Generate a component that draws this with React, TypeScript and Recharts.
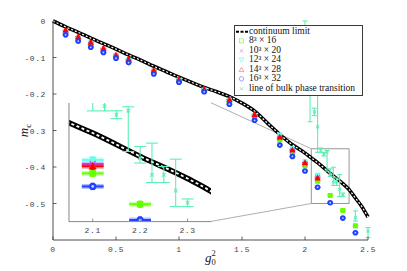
import React from 'react';
import { ComposedChart, Scatter, Line, XAxis, YAxis, ErrorBar, ReferenceArea, ReferenceLine, Legend } from 'recharts';

// ---------------- data ----------------
const G_LAT = [0.1, 0.2, 0.3, 0.4, 0.5, 0.6, 0.8, 1.0, 1.2, 1.4, 1.6, 1.8, 1.9, 2.0, 2.1];
const G_LAT_LONG = [0.1, 0.2, 0.3, 0.4, 0.5, 0.6, 0.8, 1.0, 1.2, 1.4, 1.6, 1.8, 1.9, 2.0, 2.1, 2.2, 2.3, 2.4];

const M_8x16 = [-0.035, -0.052, -0.068, -0.084, -0.099, -0.111, -0.141, -0.165, -0.191, -0.223, -0.265, -0.326, -0.362, -0.397, -0.439, -0.478, -0.519, -0.561];
const M_10x20 = [-0.030, -0.048, -0.063, -0.080, -0.097, -0.108, -0.139, -0.163, -0.190, -0.219, -0.261, -0.320, -0.355, -0.392, -0.427];
const M_12x24 = [-0.028, -0.046, -0.061, -0.078, -0.095, -0.107, -0.137, -0.162, -0.189, -0.217, -0.259, -0.312, -0.349, -0.385, -0.422];
const M_14x28 = [-0.025, -0.043, -0.058, -0.075, -0.093, -0.104, -0.135, -0.160, -0.187, -0.215, -0.256, -0.318, -0.353, -0.388, -0.430];
const M_16x32 = [-0.038, -0.055, -0.072, -0.086, -0.102, -0.114, -0.145, -0.168, -0.194, -0.228, -0.272, -0.340, -0.371, -0.411, -0.4555, -0.498, -0.540, -0.580];
const ERR_M = 0.004;
const ERR_G = 0.023;

const G_CONT = [0, 0.1, 0.2, 0.3, 0.4, 0.5, 0.6, 0.7, 0.8, 0.9, 1.0, 1.1, 1.2, 1.3, 1.4, 1.5, 1.6, 1.7, 1.8, 1.9, 2.0, 2.05, 2.1, 2.2, 2.3, 2.35, 2.4, 2.45, 2.5];
const M_CONT = [0, -0.016, -0.031, -0.047, -0.062, -0.077, -0.093, -0.108, -0.124, -0.139, -0.154, -0.168, -0.182, -0.194, -0.207, -0.225, -0.247, -0.279, -0.311, -0.339, -0.362, -0.375, -0.388, -0.4175, -0.4455, -0.462, -0.485, -0.508, -0.537];

const G_BULK = [2.0, 2.04, 2.075, 2.1, 2.125, 2.15, 2.175, 2.2, 2.225, 2.25, 2.275, 2.3, 2.4, 2.5];
const M_BULK = [-0.1, -0.2, -0.249, -0.29, -0.354, -0.3648, -0.3598, -0.4197, -0.4409, -0.4409, -0.4608, -0.476, -0.539, -0.5757];
const BULK_LO = [0.02, 0.076, 0.01, 0.07, 0.006, 0.005, 0.0515, 0.0063, 0.0097, 0.0097, 0.0202, 0.005, 0.009, 0.018];
const BULK_HI = [0.1, 0.03, 0.01, 0.12, 0.006, 0.005, 0.005, 0.0147, 0.0402, 0.0106, 0.0398, 0.0047, 0.0185, 0.0097];

const X_TICKS = [0, 0.5, 1, 1.5, 2, 2.5];
const Y_TICKS = [0, -0.1, -0.2, -0.3, -0.4, -0.5];
const INSET_X_TICKS = [2.1, 2.2, 2.3];
const X_DOMAIN = [0, 2.5];
const Y_DOMAIN = [-0.6, 0];
const ZOOM_X = [2.05, 2.35];
const ZOOM_Y = [-0.5, -0.35];
// inset box in main-chart data coordinates
const INSET_X = [0.125, 1.254];
const INSET_Y = [-0.549, -0.224];

const LEGEND_LABELS = ['continuum limit', '8³ × 16', '10³ × 20', '12³ × 24', '14³ × 28', '16³ × 32', 'line of bulk phase transition'];

// ---------------- layout ----------------
const W = 407;
const H = 271;
const PL = 53;
const PT = 21;
const PR = 368;
const PB = 240;
const px = (g: number) => PL + ((g - X_DOMAIN[0]) / (X_DOMAIN[1] - X_DOMAIN[0])) * (PR - PL);
const py = (m: number) => PT + ((Y_DOMAIN[1] - m) / (Y_DOMAIN[1] - Y_DOMAIN[0])) * (PB - PT);

const C8 = '#66ff00';
const C10 = '#c040ff';
const C12 = '#66ffee';
const C14 = '#ff0000';
const C16 = '#2040ff';
const CB = '#5cf0b4';
const FRAME = '#3a3a3a';
const TICKC = '#444';

const lat = (gs: number[], ms: number[]) => ms.map((m, i) => ({ g: gs[i], m, em: ERR_M, eg: ERR_G }));
const D8 = lat(G_LAT_LONG, M_8x16);
const D10 = lat(G_LAT, M_10x20);
const D12 = lat(G_LAT, M_12x24);
const D14 = lat(G_LAT, M_14x28);
const D16 = lat(G_LAT_LONG, M_16x32);
const CONT = G_CONT.map((g, i) => ({ g, m: M_CONT[i] }));
const BULK = G_BULK.map((g, i) => ({ g, m: M_BULK[i], eb: [BULK_LO[i], BULK_HI[i]] }));

// ---------------- marker shapes ----------------
const square = (c: string, s: number) => (p: any) => (
  <rect x={p.cx - s / 2} y={p.cy - s / 2} width={s} height={s} fill={c} />
);
const triUp = (c: string, s: number) => (p: any) => (
  <polygon points={`${p.cx},${p.cy - s * 0.55} ${p.cx - s / 2},${p.cy + s * 0.4} ${p.cx + s / 2},${p.cy + s * 0.4}`} fill={c} />
);
const triDown = (c: string, s: number) => (p: any) => (
  <polygon points={`${p.cx},${p.cy + s * 0.55} ${p.cx - s / 2},${p.cy - s * 0.4} ${p.cx + s / 2},${p.cy - s * 0.4}`} fill={c} />
);
const cross = (c: string, s: number, w: number) => (p: any) => (
  <g stroke={c} strokeWidth={w}>
    <line x1={p.cx - s / 2} y1={p.cy - s / 2} x2={p.cx + s / 2} y2={p.cy + s / 2} />
    <line x1={p.cx - s / 2} y1={p.cy + s / 2} x2={p.cx + s / 2} y2={p.cy - s / 2} />
  </g>
);
const circ = (c: string, r: number, inner: number) => (p: any) => (
  <g>
    <circle cx={p.cx} cy={p.cy} r={r} fill={c} />
    <circle cx={p.cx} cy={p.cy} r={inner} fill="#c8d0ff" />
  </g>
);

// ---------------- ticks ----------------
const tickText = { fontFamily: 'Liberation Mono, DejaVu Sans Mono, monospace', fontSize: 8, letterSpacing: 0.6, fill: TICKC } as any;
const BottomTick = (len: number, labels: boolean, dy: number, col: string) => (p: any) => (
  <g>
    <line x1={p.x} x2={p.x} y1={p.y} y2={p.y - len} stroke={col} strokeWidth={0.8} />
    {labels ? (
      <text x={p.x} y={p.y + dy} textAnchor="middle" {...tickText}>{String(p.payload.value)}</text>
    ) : null}
  </g>
);
const TopTick = (len: number, col: string) => (p: any) => (
  <line x1={p.x} x2={p.x} y1={p.y} y2={p.y + len} stroke={col} strokeWidth={0.8} />
);
const LeftTick = (p: any) => (
  <g>
    <line x1={p.x} x2={p.x + 3.5} y1={p.y} y2={p.y} stroke={FRAME} strokeWidth={0.8} />
    <text x={p.x - 7} y={p.y + 3} textAnchor="end" {...tickText}>{String(p.payload.value)}</text>
  </g>
);
const RightTick = (p: any) => (
  <line x1={p.x} x2={p.x - 3.5} y1={p.y} y2={p.y} stroke={FRAME} strokeWidth={0.8} />
);

// ---------------- axis labels ----------------
const MLabel = (p: any) => {
  const vb = p.viewBox || { y: PT, height: PB - PT };
  const cx = 28;
  const cy = vb.y + vb.height / 2;
  return (
    <text x={cx} y={cy} transform={`rotate(-90 ${cx} ${cy})`} textAnchor="middle" fontFamily="Liberation Serif, DejaVu Serif, serif" fontSize={13} fill="#222">
      <tspan fontStyle="italic">m</tspan>
      <tspan fontSize={9} dy={2.5}>c</tspan>
    </text>
  );
};
const GLabel = (p: any) => {
  const vb = p.viewBox || { x: PL, width: PR - PL };
  const cx = vb.x + vb.width / 2;
  return (
    <text x={cx - 5.5} y={262} fontFamily="Liberation Serif, DejaVu Serif, serif" fontSize={13} fill="#222">
      <tspan fontStyle="italic">g</tspan>
      <tspan fontSize={8.5} dy={3}>0</tspan>
      <tspan fontSize={8.5} dx={-4.3} dy={-9.5}>2</tspan>
    </text>
  );
};

// ---------------- legend ----------------
const legendIcon = (i: number) => {
  const c = 6.5;
  const m = 4.8;
  switch (i) {
    case 0:
      return <line x1={1} x2={13} y1={m} y2={m} stroke="#000" strokeWidth={2} strokeDasharray="3 1.5" />;
    case 1:
      return <rect x={c - 2} y={m - 2} width={4} height={4} fill="none" stroke="#9ef070" strokeWidth={0.8} />;
    case 2:
      return cross('#d890ff', 3.6, 0.8)({ cx: c, cy: m });
    case 3:
      return <polygon points={`${c},${m + 2.4} ${c - 2.4},${m - 1.8} ${c + 2.4},${m - 1.8}`} fill="none" stroke="#80f5ec" strokeWidth={0.8} />;
    case 4:
      return <polygon points={`${c},${m - 2.4} ${c - 2.4},${m + 1.8} ${c + 2.4},${m + 1.8}`} fill="none" stroke="#ff8080" strokeWidth={0.8} />;
    case 5:
      return <circle cx={c} cy={m} r={2.2} fill="none" stroke="#7a90ff" strokeWidth={0.8} />;
    default:
      return cross('#60eeb4', 3.2, 0.8)({ cx: c, cy: m });
  }
};
const LegendBox = () => (
  <div
    style={{
      border: `1px solid ${FRAME}`,
      background: '#fff',
      width: 127,
      boxSizing: 'content-box',
      padding: '0.5px 0 1px 0',
      fontFamily: 'Liberation Serif, DejaVu Serif, serif',
      fontSize: 9.5,
      color: '#111',
    }}
  >
    {LEGEND_LABELS.map((t, i) => (
      <div key={t} style={{ display: 'flex', alignItems: 'center', height: 9.6, lineHeight: '9.6px', whiteSpace: 'nowrap' }}>
        <svg width={14} height={9.6} style={{ display: 'block', flex: 'none' }}>{legendIcon(i)}</svg>
        <span>{t}</span>
      </div>
    ))}
  </div>
);

// ---------------- series renderers ----------------
const latticeSeries = (inset: boolean) => {
  const k = inset ? 1.3 : 1;
  const xe = (c: string) =>
    inset
      ? [
          <ErrorBar key="xh" dataKey="eg" direction="x" width={0} stroke={c} strokeWidth={5} strokeOpacity={0.35} />,
          <ErrorBar key="xc" dataKey="eg" direction="x" width={0} stroke={c} strokeWidth={2} />,
        ]
      : [<ErrorBar key="x" dataKey="eg" direction="x" width={0} stroke={c} strokeWidth={1} />];
  const ye = (c: string) => <ErrorBar key="y" dataKey="em" direction="y" width={inset ? 2 : 1.5} stroke={c} strokeWidth={1} />;
  return [
    <Scatter key="s8" name="8x16" data={D8} dataKey="m" isAnimationActive={false} shape={square(C8, 5 * k)}>
      {xe(C8)}
      {ye(C8)}
    </Scatter>,
    <Scatter key="s10" name="10x20" data={D10} dataKey="m" isAnimationActive={false} shape={cross(C10, 4.5 * k, 1.2)}>
      {xe(C10)}
      {ye(C10)}
    </Scatter>,
    <Scatter key="s12" name="12x24" data={D12} dataKey="m" isAnimationActive={false} shape={triDown(C12, 6 * k)}>
      {xe(C12)}
      {ye(C12)}
    </Scatter>,
    <Scatter key="s14" name="14x28" data={D14} dataKey="m" isAnimationActive={false} shape={triUp(C14, 6.2 * k)}>
      {xe(C14)}
      {ye(C14)}
    </Scatter>,
    <Scatter key="s16" name="16x32" data={D16} dataKey="m" isAnimationActive={false} shape={circ(C16, 2.8 * k, inset ? 1.4 : 0.9)}>
      {xe(C16)}
      {ye(C16)}
    </Scatter>,
  ];
};

const contSeries = (w: number, dw: number, dash: string) => [
  <Line key="c1" data={CONT} dataKey="m" type="monotone" stroke="#000" strokeWidth={w} dot={false} activeDot={false} isAnimationActive={false} legendType="none" />,
  <Line key="c2" data={CONT} dataKey="m" type="monotone" stroke="#fff" strokeWidth={dw} strokeDasharray={dash} dot={false} activeDot={false} isAnimationActive={false} legendType="none" />,
];

const bulkSeries = (inset: boolean) => (
  <Scatter key="bulk" name="bulk" data={BULK} dataKey="m" isAnimationActive={false} shape={cross(CB, inset ? 3.5 : 2.8, 1.1)}>
    <ErrorBar dataKey="eb" direction="y" width={inset ? 6 : 2.5} stroke={CB} strokeWidth={1.1} />
  </Scatter>
);

// inset geometry in pixels (derived from main scale)
const IL = px(INSET_X[0]);
const IR = px(INSET_X[1]);
const IT = py(INSET_Y[1]);
const IB = py(INSET_Y[0]);
const IPAD = 3;
const IW = IR - IL + 2 * IPAD;
const IH = IB - IT + IPAD + 16;
const IFRAME = '#777';

const insetAxes = (show: boolean) => [
  <XAxis
    key="xb"
    dataKey="g"
    type="number"
    domain={ZOOM_X}
    allowDataOverflow
    ticks={INSET_X_TICKS}
    interval={0}
    height={16}
    tickLine={false}
    tickSize={0}
    tickMargin={0}
    axisLine={show ? { stroke: IFRAME, strokeWidth: 0.9 } : false}
    tick={show ? BottomTick(3, true, 11, IFRAME) : false}
  />,
  <XAxis
    key="xt"
    xAxisId="top"
    orientation="top"
    dataKey="g"
    type="number"
    domain={ZOOM_X}
    allowDataOverflow
    ticks={INSET_X_TICKS}
    interval={0}
    height={0}
    tickLine={false}
    tickSize={0}
    tickMargin={0}
    axisLine={show ? { stroke: IFRAME, strokeWidth: 0.9 } : false}
    tick={show ? TopTick(3, IFRAME) : false}
  />,
  <YAxis
    key="yl"
    dataKey="m"
    type="number"
    domain={ZOOM_Y}
    allowDataOverflow
    ticks={[]}
    width={IPAD}
    tickLine={false}
    tick={false}
    axisLine={show ? { stroke: IFRAME, strokeWidth: 0.9 } : false}
  />,
  <YAxis
    key="yr"
    yAxisId="right"
    orientation="right"
    dataKey="m"
    type="number"
    domain={ZOOM_Y}
    allowDataOverflow
    ticks={[]}
    width={0}
    tickLine={false}
    tick={false}
    axisLine={show ? { stroke: IFRAME, strokeWidth: 0.9 } : false}
  />,
];

export default function App() {
  return (
    <div style={{ position: 'absolute', left: 0, top: 0, width: W, height: H, background: '#fff' }}>
      <div style={{ position: 'absolute', left: 0, top: 0 }}>
        <ComposedChart width={W} height={H} margin={{ top: PT, right: W - PR, bottom: 0, left: 0 }}>
          <XAxis
            dataKey="g"
            type="number"
            domain={X_DOMAIN}
            ticks={X_TICKS}
            interval={0}
            height={H - PB}
            tickLine={false}
            tickSize={0}
            tickMargin={0}
            axisLine={{ stroke: FRAME, strokeWidth: 0.9 }}
            tick={BottomTick(3.5, true, 11.5, FRAME)}
            label={GLabel}
          />
          <XAxis
            xAxisId="top"
            orientation="top"
            dataKey="g"
            type="number"
            domain={X_DOMAIN}
            ticks={X_TICKS}
            interval={0}
            height={0}
            tickLine={false}
            tickSize={0}
            tickMargin={0}
            axisLine={{ stroke: FRAME, strokeWidth: 0.9 }}
            tick={TopTick(3.5, FRAME)}
          />
          <YAxis
            dataKey="m"
            type="number"
            domain={Y_DOMAIN}
            ticks={Y_TICKS}
            interval={0}
            width={PL}
            tickLine={false}
            tickSize={0}
            tickMargin={0}
            axisLine={{ stroke: FRAME, strokeWidth: 0.9 }}
            tick={LeftTick}
            label={MLabel}
          />
          <YAxis
            yAxisId="right"
            orientation="right"
            dataKey="m"
            type="number"
            domain={Y_DOMAIN}
            ticks={Y_TICKS}
            interval={0}
            width={0}
            tickLine={false}
            tickSize={0}
            tickMargin={0}
            axisLine={{ stroke: FRAME, strokeWidth: 0.9 }}
            tick={RightTick}
          />
          <ReferenceLine
            segment={[{ x: INSET_X[1], y: INSET_Y[1] }, { x: ZOOM_X[0], y: ZOOM_Y[1] }]}
            stroke="#999"
            strokeWidth={0.8}
            ifOverflow="visible"
          />
          <ReferenceLine
            segment={[{ x: INSET_X[1], y: INSET_Y[0] }, { x: ZOOM_X[0], y: ZOOM_Y[0] }]}
            stroke="#999"
            strokeWidth={0.8}
            ifOverflow="visible"
          />
          {contSeries(3.6, 1.2, '2 2')}
          {latticeSeries(false)}
          {bulkSeries(false)}
          <ReferenceArea
            x1={ZOOM_X[0]}
            x2={ZOOM_X[1]}
            y1={ZOOM_Y[0]}
            y2={ZOOM_Y[1]}
            fill="none"
            fillOpacity={0}
            stroke="#8a8a8a"
            strokeWidth={0.9}
            ifOverflow="visible"
          />
          <Legend
            layout="horizontal"
            verticalAlign="middle"
            align="center"
            content={LegendBox}
            wrapperStyle={{ left: 234, top: 25, right: 'auto', bottom: 'auto', width: 'auto', height: 'auto' }}
          />
        </ComposedChart>
      </div>
      {/* inset: data layer, clipped to the inset box */}
      <div style={{ position: 'absolute', left: IL, top: IT, width: IR - IL, height: IB - IT, background: '#fff', overflow: 'hidden' }}>
        <div style={{ position: 'absolute', left: -IPAD, top: -IPAD }}>
          <ComposedChart width={IW} height={IH} margin={{ top: IPAD, right: IPAD, bottom: 0, left: 0 }}>
            {insetAxes(false)}
            {contSeries(5.5, 1.8, '3 2.5')}
            {bulkSeries(true)}
            {latticeSeries(true)}
          </ComposedChart>
        </div>
      </div>
      {/* inset: frame, ticks and tick labels */}
      <div style={{ position: 'absolute', left: IL - IPAD, top: IT - IPAD }}>
        <ComposedChart width={IW} height={IH} margin={{ top: IPAD, right: IPAD, bottom: 0, left: 0 }}>
          {insetAxes(true)}
          <Line data={CONT} dataKey="m" stroke="none" dot={false} activeDot={false} isAnimationActive={false} legendType="none" />
        </ComposedChart>
      </div>
    </div>
  );
}
